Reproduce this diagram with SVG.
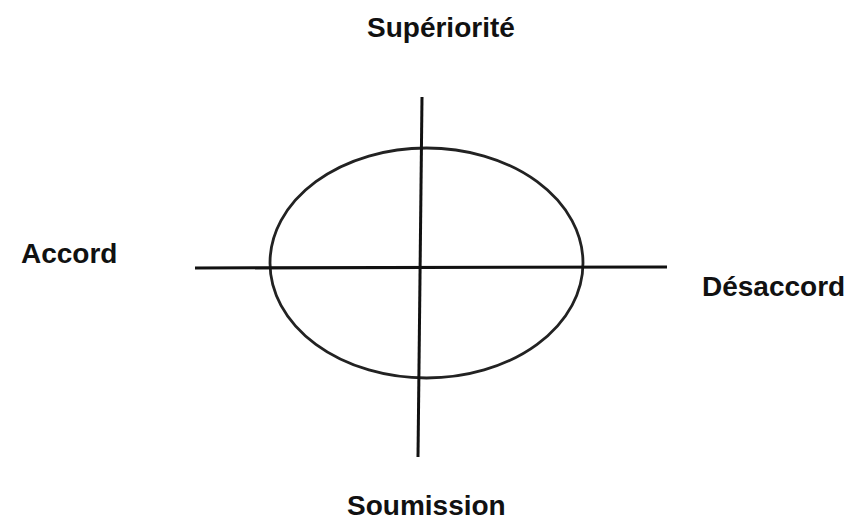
<svg xmlns="http://www.w3.org/2000/svg" width="857" height="522" viewBox="0 0 857 522">
<style>
.lbl{font-family:"Liberation Sans",Arial,sans-serif;font-size:28px;font-weight:bold;fill:#111}
.ax{stroke:#111;stroke-width:3;fill:none;stroke-linecap:butt}
.el{stroke:#222;stroke-width:2.8;fill:none}
</style>
<rect width="857" height="522" fill="#fff"/>
<g id="ellipse"><ellipse class="el" cx="426.5" cy="263" rx="156.5" ry="115"/></g>
<g id="connectors">
<line class="ax" x1="422" y1="97" x2="418" y2="457"/>
<line class="ax" x1="195" y1="268" x2="667" y2="267"/>
</g>
<g id="superiorite"><text class="lbl" x="367" y="37">Supériorité</text></g>
<g id="accord"><text class="lbl" x="21" y="263">Accord</text></g>
<g id="desaccord"><text class="lbl" x="702" y="296">Désaccord</text></g>
<g id="soumission"><text class="lbl" x="347" y="515">Soumission</text></g>
</svg>
